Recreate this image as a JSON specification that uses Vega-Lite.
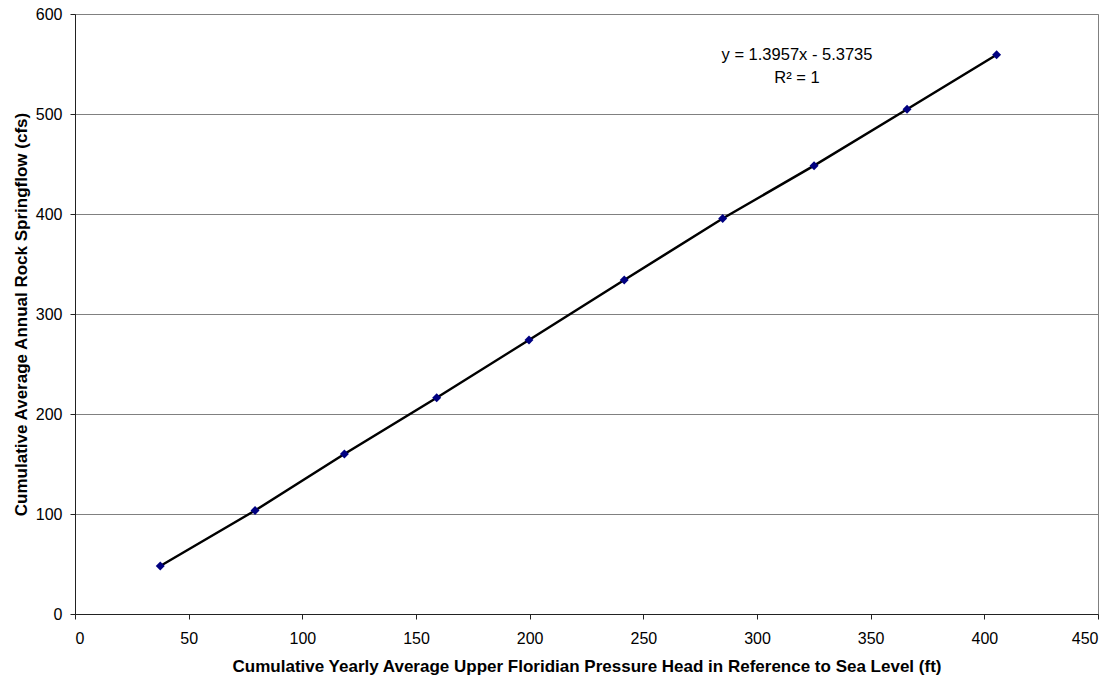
{
  "$schema": "https://vega.github.io/schema/vega-lite/v6.json",
  "width": 1023,
  "height": 600,
  "autosize": "none",
  "padding": {"left": 75, "top": 14, "right": 21, "bottom": 65},
  "background": "white",
  "config": {
    "font": "Liberation Sans",
    "view": {"stroke": "#808080", "strokeWidth": 1},
    "axis": {
      "labelFont": "Liberation Sans",
      "titleFont": "Liberation Sans",
      "labelFontSize": 16,
      "titleFontSize": 17,
      "labelColor": "#000000",
      "titleColor": "#000000",
      "domainColor": "#222222",
      "tickColor": "#222222",
      "tickSize": 5,
      "gridColor": "#808080",
      "gridWidth": 1
    }
  },
  "data": {
    "values": [
      {"head": 37.5, "flow": 48},
      {"head": 79.2, "flow": 103.5},
      {"head": 118.5, "flow": 160},
      {"head": 159.1, "flow": 216.3},
      {"head": 199.7, "flow": 274},
      {"head": 241.6, "flow": 334},
      {"head": 284.9, "flow": 395.5},
      {"head": 325.1, "flow": 448.3},
      {"head": 366.0, "flow": 504.7},
      {"head": 405.4, "flow": 559.3}
    ]
  },
  "layer": [
    {
      "mark": {"type": "line", "color": "#000000", "strokeWidth": 2.5},
      "encoding": {
        "x": {
          "field": "head", "type": "quantitative",
          "scale": {"domain": [0, 450], "nice": false},
          "axis": {"values": [0, 50, 100, 150, 200, 250, 300, 350, 400, 450], "grid": false,
                   "title": "Cumulative Yearly Average Upper Floridian Pressure Head in Reference to Sea Level (ft)",
                   "titleFontWeight": "bold", "labelPadding": 11, "titlePadding": 12}
        },
        "y": {
          "field": "flow", "type": "quantitative",
          "scale": {"domain": [0, 600], "nice": false},
          "axis": {"values": [0, 100, 200, 300, 400, 500, 600], "grid": true,
                   "title": "Cumulative Average Annual Rock Springflow (cfs)",
                   "titleFontWeight": "bold", "labelPadding": 8, "titlePadding": 5}
        }
      }
    },
    {
      "mark": {"type": "point", "shape": "diamond", "filled": true, "color": "#000080", "size": 80, "opacity": 1},
      "encoding": {
        "x": {"field": "head", "type": "quantitative"},
        "y": {"field": "flow", "type": "quantitative"}
      }
    },
    {
      "data": {"values": [{"label": "y = 1.3957x - 5.3735"}]},
      "mark": {"type": "text", "fontSize": 16.5, "font": "Liberation Sans", "color": "#000000", "align": "center", "baseline": "middle"},
      "encoding": {
        "x": {"datum": 317.6},
        "y": {"datum": 559},
        "text": {"field": "label"}
      }
    },
    {
      "data": {"values": [{"label": "R² = 1"}]},
      "mark": {"type": "text", "fontSize": 16.5, "font": "Liberation Sans", "color": "#000000", "align": "center", "baseline": "middle"},
      "encoding": {
        "x": {"datum": 317.6},
        "y": {"datum": 536},
        "text": {"field": "label"}
      }
    }
  ]
}
